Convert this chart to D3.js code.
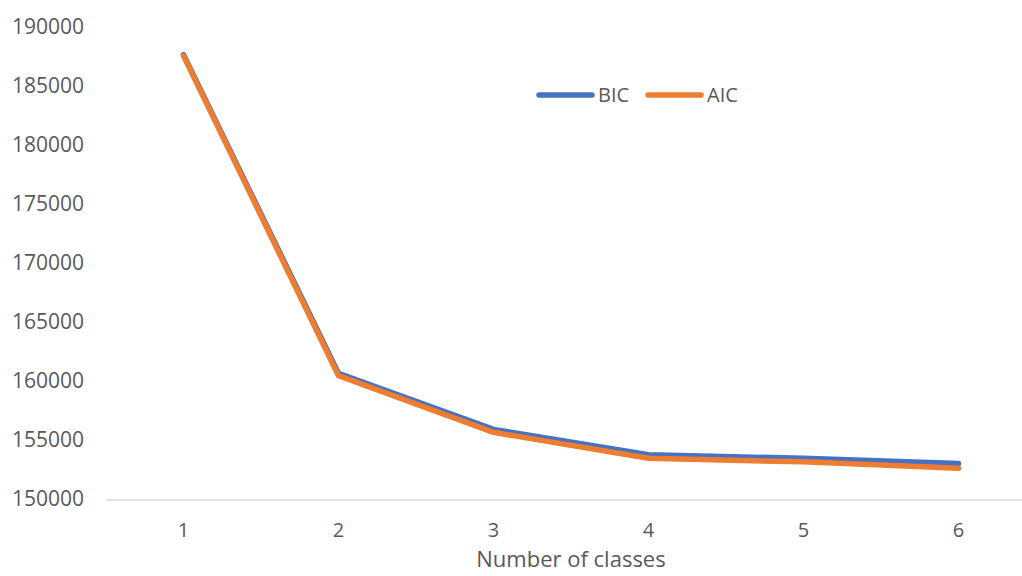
<!DOCTYPE html>
<html>
<head>
<meta charset="utf-8">
<script src="https://cdn.jsdelivr.net/npm/d3@7"></script>
<style>
  html, body { margin: 0; padding: 0; background: #fff; }
  svg { display: block; font-family: "Open Sans", "Noto Sans", sans-serif; }
</style>
</head>
<body>
<svg id="chart" width="1022" height="576"></svg>
<script>
// Information criteria by number of latent classes
const classes = [1, 2, 3, 4, 5, 6];
const bicValues = [187650, 160650, 155900, 153750, 153450, 153000];
const aicValues = [187550, 160450, 155650, 153450, 153150, 152600];
const yTicks = [150000, 155000, 160000, 165000, 170000, 175000, 180000, 185000, 190000];

const seriesList = [
  { name: "BIC", values: bicValues, color: "#4472C4" },
  { name: "AIC", values: aicValues, color: "#ED7D31" }
];

const svg = d3.select("#chart");
const textColor = "#595959";

const x = d3.scaleBand().domain(classes).range([106, 1036]).padding(0);
const y = d3.scaleLinear().domain([150000, 190000]).range([499, 27]);

// Value axis labels (no axis line, no gridlines)
const yAxis = svg.append("g")
  .attr("transform", "translate(84,0)")
  .call(d3.axisLeft(y).tickValues(yTicks).tickSize(0).tickPadding(0).tickFormat(d3.format("d")));
yAxis.select(".domain").remove();
yAxis.selectAll("text")
  .attr("fill", textColor)
  .style("font-size", "21px")
  .style("font-family", "'Open Sans', sans-serif");

// Category axis
const xAxis = svg.append("g")
  .attr("transform", "translate(0,499.5)")
  .call(d3.axisBottom(x).tickSize(0).tickPadding(23));
xAxis.select(".domain").attr("stroke", "#d9d9d9").attr("stroke-width", 1.5);
xAxis.selectAll("text")
  .attr("fill", textColor)
  .style("font-size", "20px")
  .style("font-family", "'Open Sans', sans-serif");

svg.append("text")
  .attr("x", 571)
  .attr("y", 567)
  .attr("text-anchor", "middle")
  .attr("fill", textColor)
  .style("font-size", "22px")
  .text("Number of classes");

// Series lines
const line = d3.line()
  .x((d, i) => x(classes[i]) + x.bandwidth() / 2)
  .y(d => y(d));

svg.append("g").selectAll("path")
  .data(seriesList)
  .join("path")
  .attr("d", s => line(s.values))
  .attr("fill", "none")
  .attr("stroke", s => s.color)
  .attr("stroke-width", 5.5)
  .attr("stroke-linecap", "round")
  .attr("stroke-linejoin", "round");

// Legend
const legend = svg.append("g").attr("transform", "translate(539,95)");
const items = legend.selectAll("g")
  .data(seriesList)
  .join("g")
  .attr("transform", (d, i) => `translate(${i * 109},0)`);
items.append("line")
  .attr("x1", 0).attr("x2", 53)
  .attr("y1", 0).attr("y2", 0)
  .attr("stroke", d => d.color)
  .attr("stroke-width", 5.5)
  .attr("stroke-linecap", "round");
items.append("text")
  .attr("x", 59)
  .attr("y", 0)
  .attr("dy", "0.35em")
  .attr("fill", textColor)
  .style("font-size", "20px")
  .text(d => d.name);
</script>
</body>
</html>
